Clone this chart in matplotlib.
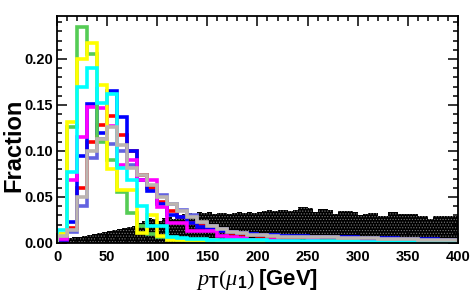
import numpy as np
import matplotlib
matplotlib.use('Agg')
import matplotlib.pyplot as plt
from matplotlib.ticker import MultipleLocator

plt.rcParams['mathtext.fontset'] = 'custom'
plt.rcParams['mathtext.rm'] = 'Liberation Serif'
plt.rcParams['mathtext.it'] = 'Liberation Serif:italic'
plt.rcParams['mathtext.bf'] = 'Liberation Sans:bold'
plt.rcParams['mathtext.sf'] = 'Liberation Sans:bold'
plt.rcParams['hatch.linewidth'] = 0.5

# bin edges (GeV)
edges10 = np.arange(0, 401, 10)
edges5 = np.arange(0, 401, 5)

# background, 5 GeV bins
black = [0.000, 0.002, 0.005, 0.006, 0.007, 0.008, 0.009, 0.010, 0.011, 0.012,
         0.013, 0.014, 0.015, 0.016, 0.017, 0.018, 0.022, 0.024, 0.027, 0.026,
         0.024, 0.027, 0.028, 0.026, 0.030, 0.031, 0.033, 0.032, 0.034, 0.033,
         0.034, 0.032, 0.033, 0.033, 0.032, 0.033, 0.034, 0.033, 0.034, 0.033,
         0.034, 0.035, 0.036, 0.035, 0.036, 0.036, 0.035, 0.036, 0.039, 0.039,
         0.038, 0.034, 0.037, 0.037, 0.036, 0.032, 0.035, 0.035, 0.035, 0.034,
         0.030, 0.031, 0.033, 0.033, 0.029, 0.029, 0.034, 0.034, 0.031, 0.032,
         0.032, 0.032, 0.029, 0.029, 0.026, 0.029, 0.029, 0.029, 0.029, 0.029]

# signal samples, 10 GeV bins
green = [0.010, 0.126, 0.235, 0.205, 0.110, 0.090, 0.055, 0.033, 0.018, 0.010,
         0.006, 0.004, 0.003, 0.002, 0.002, 0.001, 0.001, 0.001, 0.001, 0.001,
         0.001, 0.001, 0.001, 0.000, 0.000, 0.000, 0.000, 0.000, 0.000, 0.000,
         0.000, 0.000, 0.000, 0.000, 0.000, 0.000, 0.000, 0.000, 0.000, 0.000]
yellow = [0.010, 0.131, 0.200, 0.217, 0.172, 0.080, 0.058, 0.058, 0.011, 0.030,
          0.008, 0.003, 0.003, 0.003, 0.003, 0.003, 0.002, 0.001, 0.001, 0.001,
          0.001, 0.001, 0.001, 0.001, 0.000, 0.000, 0.000, 0.000, 0.000, 0.000,
          0.000, 0.000, 0.000, 0.000, 0.000, 0.000, 0.000, 0.000, 0.000, 0.000]
cyan = [0.014, 0.077, 0.170, 0.190, 0.152, 0.162, 0.082, 0.068, 0.040, 0.018,
        0.018, 0.006, 0.005, 0.004, 0.004, 0.003, 0.003, 0.003, 0.003, 0.003,
        0.003, 0.002, 0.002, 0.002, 0.002, 0.002, 0.002, 0.002, 0.002, 0.002,
        0.001, 0.001, 0.001, 0.001, 0.001, 0.001, 0.001, 0.001, 0.001, 0.001]
blue = [0.003, 0.023, 0.095, 0.151, 0.120, 0.165, 0.137, 0.100, 0.068, 0.057,
        0.042, 0.030, 0.028, 0.022, 0.017, 0.015, 0.013, 0.012, 0.011, 0.010,
        0.009, 0.009, 0.008, 0.008, 0.008, 0.007, 0.007, 0.006, 0.006, 0.006,
        0.005, 0.005, 0.005, 0.005, 0.004, 0.004, 0.004, 0.004, 0.003, 0.003]
red = [0.003, 0.016, 0.060, 0.110, 0.128, 0.138, 0.117, 0.100, 0.074, 0.060,
       0.045, 0.035, 0.028, 0.022, 0.018, 0.015, 0.013, 0.011, 0.010, 0.009,
       0.008, 0.007, 0.007, 0.006, 0.006, 0.005, 0.005, 0.005, 0.004, 0.004,
       0.004, 0.004, 0.003, 0.003, 0.003, 0.003, 0.003, 0.002, 0.002, 0.002]
magenta = [0.004, 0.068, 0.115, 0.148, 0.147, 0.127, 0.085, 0.090, 0.068, 0.068,
           0.039, 0.022, 0.022, 0.013, 0.013, 0.013, 0.008, 0.006, 0.005, 0.003,
           0.003, 0.003, 0.002, 0.002, 0.001, 0.003, 0.001, 0.001, 0.001, 0.001,
           0.001, 0.001, 0.000, 0.000, 0.000, 0.000, 0.000, 0.000, 0.000, 0.000]
slate = [0.003, 0.012, 0.040, 0.092, 0.113, 0.108, 0.100, 0.085, 0.074, 0.062,
         0.052, 0.042, 0.036, 0.030, 0.022, 0.019, 0.015, 0.012, 0.011, 0.010,
         0.009, 0.009, 0.008, 0.007, 0.007, 0.006, 0.006, 0.005, 0.005, 0.005,
         0.004, 0.004, 0.004, 0.004, 0.003, 0.003, 0.003, 0.003, 0.003, 0.002]
gray = [0.008, 0.014, 0.050, 0.100, 0.113, 0.126, 0.106, 0.081, 0.074, 0.063,
        0.050, 0.042, 0.035, 0.028, 0.023, 0.019, 0.015, 0.012, 0.011, 0.009,
        0.009, 0.008, 0.007, 0.007, 0.007, 0.006, 0.006, 0.006, 0.005, 0.005,
        0.005, 0.005, 0.004, 0.004, 0.004, 0.004, 0.003, 0.003, 0.003, 0.003]

# drawing order, last on top
series = [(slate, '#6262e0'), (red, '#ff0000'), (blue, '#0000ff'),
          (magenta, '#ff00ff'), (green, '#55cc55'), (yellow, '#ffff00'),
          (cyan, '#00ffff'), (gray, '#bcb5b0')]

fig = plt.figure(figsize=(4.77, 3.07), dpi=100)
ax = fig.add_axes([0.1195, 0.2085, 0.8405, 0.7395])

ax.stairs(black, edges5, fill=True, color='black', zorder=1)
ax.stairs(black, edges5, fill=True, facecolor='none', edgecolor='#7a7a7a',
          hatch='......', linewidth=0, zorder=1.5)

for vals, c in series:
    ax.stairs(vals, edges10, color=c, linewidth=2.6, zorder=2)

ax.set_xlim(0, 400)
ax.set_ylim(0, 0.2467)
ax.xaxis.set_major_locator(MultipleLocator(50))
ax.xaxis.set_minor_locator(MultipleLocator(10))
ax.yaxis.set_major_locator(MultipleLocator(0.05))
ax.yaxis.set_minor_locator(MultipleLocator(0.01))
ax.yaxis.set_major_formatter(matplotlib.ticker.FormatStrFormatter('%.2f'))
ax.tick_params(which='both', direction='in', top=True, right=True, width=1.1)
ax.tick_params(which='major', length=7)
ax.tick_params(which='minor', length=3.5)
ax.tick_params(axis='y', pad=3)
ax.tick_params(axis='x', pad=5)
for lab in ax.get_xticklabels() + ax.get_yticklabels():
    lab.set_fontfamily('Liberation Sans')
    lab.set_fontweight('bold')
    lab.set_fontsize(10.5)
for s in ax.spines.values():
    s.set_linewidth(1.3)
    s.set_zorder(5)

ax.set_ylabel('Fraction', fontfamily='Liberation Sans', fontweight='bold',
              fontsize=17)
ax.yaxis.set_label_coords(-0.078, 0.43)
ax.set_xlabel(r'$p_{\mathsf{T}}(\mu_{\mathbf{1}})\;\mathbf{[GeV]}$', fontsize=16,
              labelpad=2)

fig.savefig('out.png', dpi=100)
